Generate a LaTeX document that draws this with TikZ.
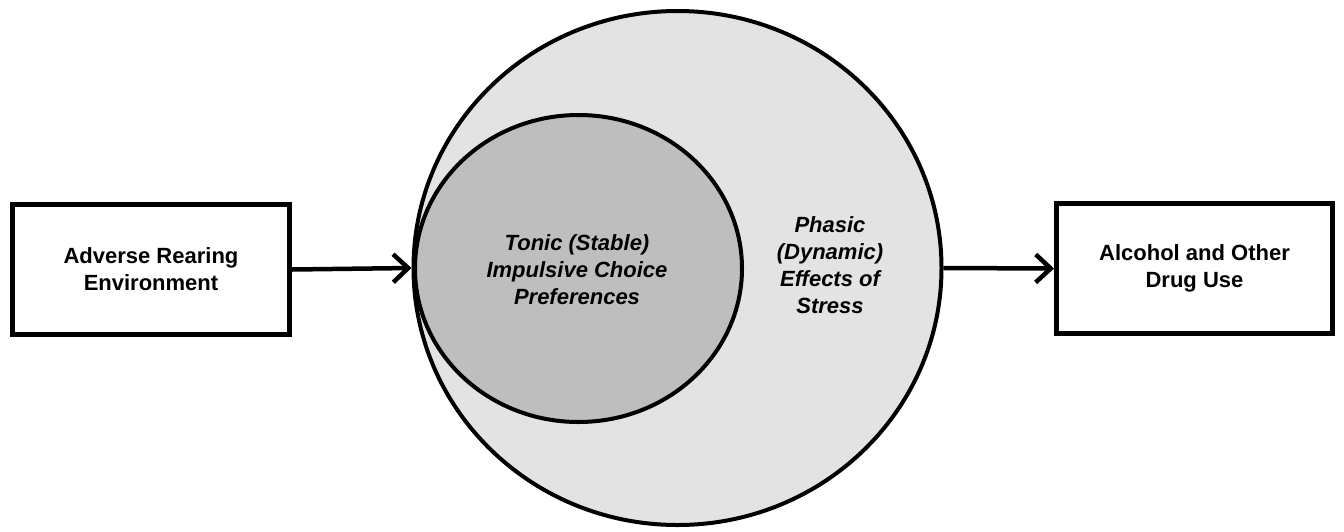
\documentclass[tikz,border=0pt]{standalone}
\usepackage{fontspec}
\setmainfont{Liberation Sans}
\usetikzlibrary{shapes.geometric,arrows.meta}
\definecolor{outerfill}{HTML}{E3E3E3}
\definecolor{innerfill}{HTML}{BEBEBE}
\tikzset{
  boxnode/.style={draw=black, line width=5pt, fill=white, minimum width=277pt, minimum height=130pt, inner sep=0pt, align=center, font=\fontsize{22}{27}\selectfont\bfseries},
  ellnode/.style={ellipse, draw=black, line width=4pt, inner sep=0pt},
  lbl/.style={align=center, font=\fontsize{22}{27}\selectfont\bfseries\itshape},
  arr/.style={line width=4.5pt, -{Straight Barb[length=15pt,width=28pt,line width=4.5pt]}}
}
\begin{document}
\begin{tikzpicture}[x=1pt,y=-1pt]
\useasboundingbox (0,0) rectangle (1344,531);
\node[boxnode] (left) at (151,269.5) {Adverse Rearing\\Environment};
\node[boxnode, minimum width=276pt] (right) at (1194.5,268.5) {Alcohol and Other\\Drug Use};
\node[ellnode, fill=outerfill, minimum width=528pt, minimum height=514pt] (outer) at (677.5,268) {};
\node[ellnode, fill=innerfill, minimum width=327pt, minimum height=307pt] (inner) at (578.5,268.5) {};
\node[lbl] (tonic) at (577,270) {Tonic (Stable)\\Impulsive Choice\\Preferences};
\node[lbl] (phasic) at (830,265) {Phasic\\(Dynamic)\\Effects of\\Stress};
\draw[arr] (left.east) -- (outer.west);
\draw[arr] (outer.east) -- (right.west);
\end{tikzpicture}
\end{document}
